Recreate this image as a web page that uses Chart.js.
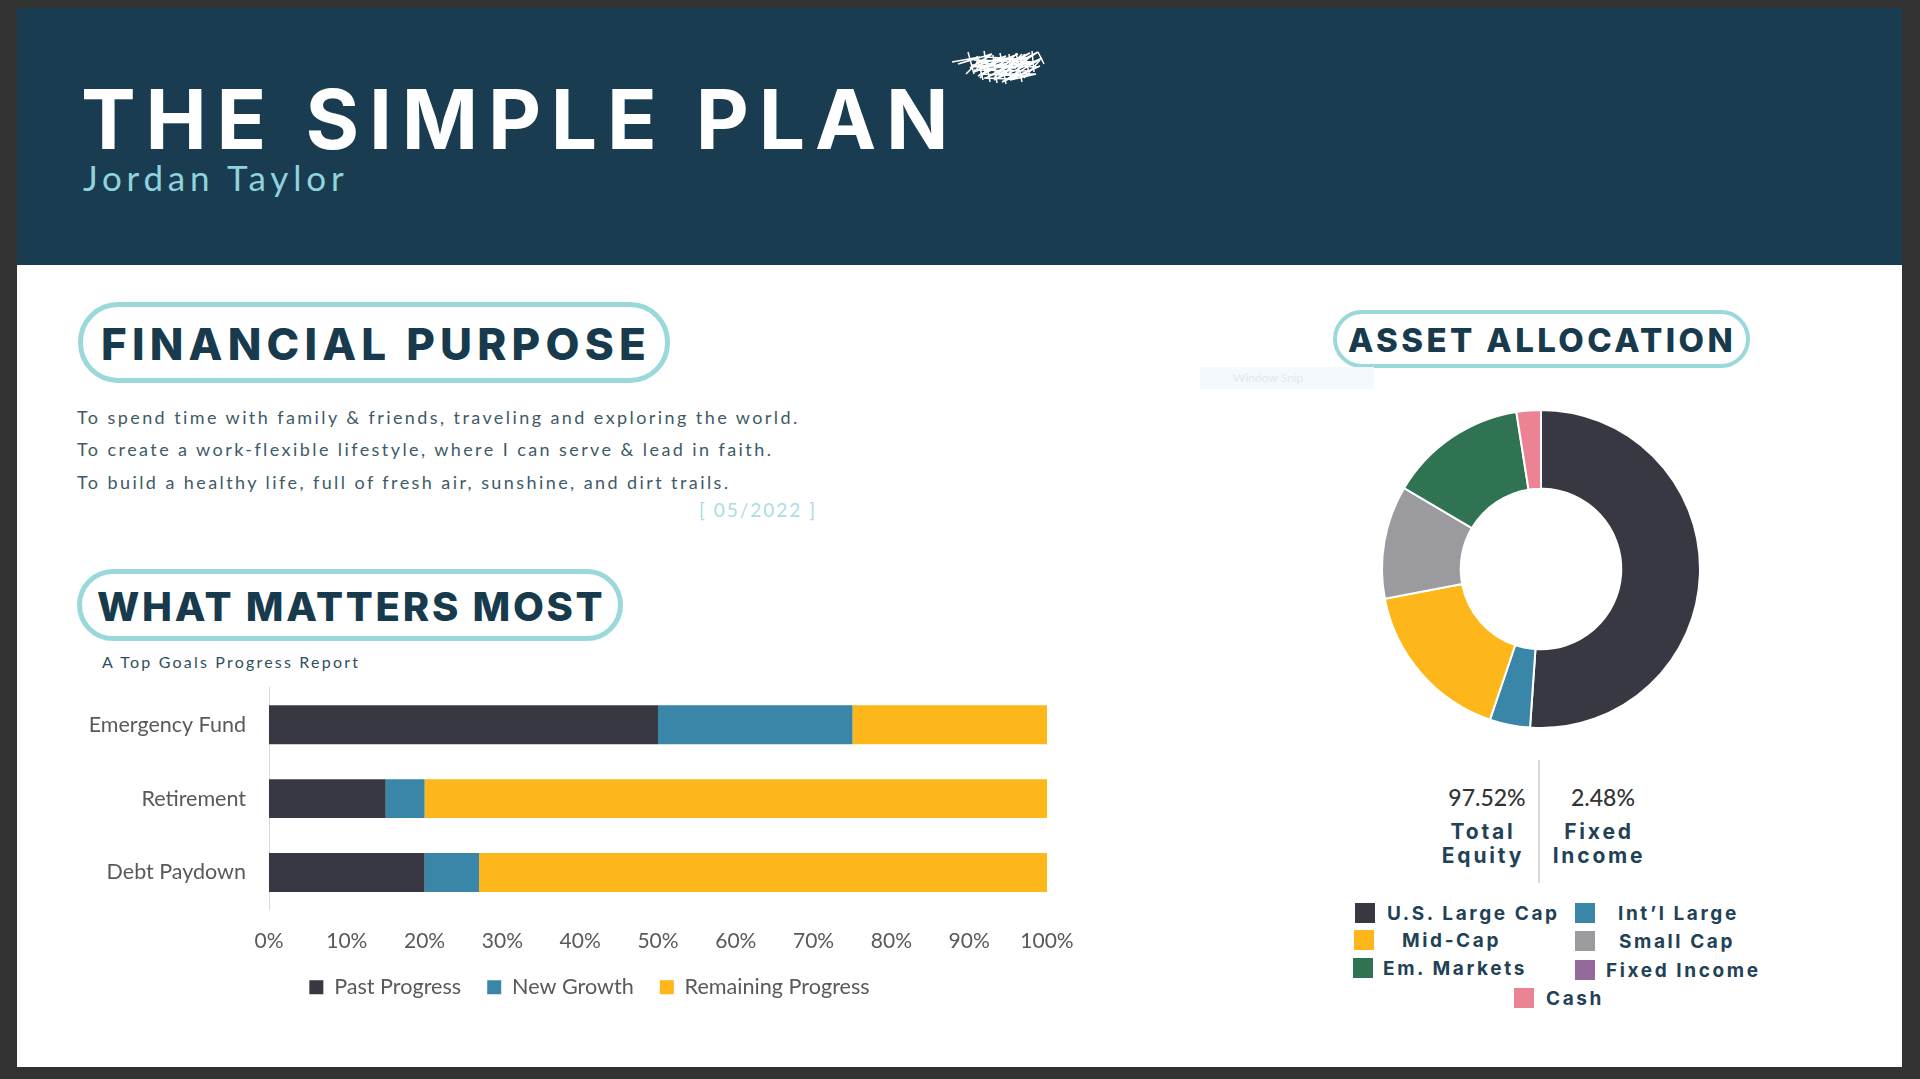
<!DOCTYPE html>
<html>
<head>
<meta charset="utf-8">
<script src="https://cdn.jsdelivr.net/npm/chart.js@4"></script>
<style>
  html, body { margin: 0; padding: 0; background: #323232; }
  body { width: 1920px; height: 1079px; position: relative; overflow: hidden; font-family: Lato, sans-serif; color: #173a4d; }
  .abs { position: absolute; white-space: nowrap; }
  #slide { position: absolute; left: 17px; top: 8px; width: 1885px; height: 1059px; background: #fff; }
  #header { position: absolute; left: 17px; top: 8px; width: 1885px; height: 257px; background: #193c50; }
  #title { left: 81px; top: 70px; font-family: Inter; font-size: 82px; line-height: 100px; font-weight: 700; letter-spacing: 9.8px; color: #fff; }
  #subtitle { left: 83px; top: 155px; font-size: 35px; line-height: 44px; letter-spacing: 4.8px; color: #8fd3dc; }
  .pill { position: absolute; border: 5px solid #9bd8dc; border-radius: 40px; box-sizing: border-box; background: #fff; }
  .head { font-family: Inter; font-weight: 800; color: #173a4d; }
  .body-line { left: 77px; font-size: 18px; line-height: 24px; letter-spacing: 2.42px; color: #3e5a68; }
  .stat { font-size: 23px; line-height: 30px; font-weight: 500; color: #333; text-align: center; width: 100px; }
  .stat-label { font-family: Inter; font-size: 21px; line-height: 24px; font-weight: 700; letter-spacing: 2.8px; text-align: center; width: 120px; color: #1f4257; }
  .key { font-family: Inter; font-size: 19px; line-height: 24px; font-weight: 700; letter-spacing: 2.6px; color: #1f4257; }
  .swatch { position: absolute; width: 20px; height: 20px; }
  canvas { position: absolute; }
</style>
</head>
<body>
<div id="slide"></div>
<div id="header"></div>
<div id="title" class="abs">THE SIMPLE PLAN</div>
<div id="subtitle" class="abs">Jordan Taylor</div>
<svg class="abs" style="left:950px;top:48px" width="100" height="38" viewBox="0 0 100 38" fill="none" stroke="#fff" stroke-width="1.5">
  <path d="M2 14 L30 9 L8 16 L42 6 L20 20 L56 8 L24 24 L68 6 L28 28 L80 5 L36 30 L88 4 L44 32 L92 10 L52 34 L90 18 L60 32 L86 26 L48 26 L80 14 L34 22 L74 10 L26 14 L66 20 L22 18 L72 28"/>
  <path d="M18 4 L24 26 M27 8 L33 32 M34 3 L40 34 M43 7 L47 35 M50 5 L56 36 M59 6 L61 32 M66 5 L72 34 M74 6 L80 28 M82 3 L84 24 M88 4 L94 16 M30 12 L16 26 M64 8 L44 30 M80 8 L60 32 M46 10 L30 30 M90 12 L74 30 M40 6 L26 22 M72 6 L52 28"/>
  <path d="M24 12 L84 14 M22 17 L88 19 M24 22 L80 23 M30 26 L76 28 M36 9 L70 11 M34 30 L60 31"/>
</svg>

<div class="pill" style="left:78px;top:302px;width:592px;height:81px"></div>
<div class="abs head" style="left:101px;top:317px;font-size:44px;line-height:54px;letter-spacing:5.2px">FINANCIAL PURPOSE</div>
<div class="abs body-line" style="top:405px">To spend time with family &amp; friends, traveling and exploring the world.</div>
<div class="abs body-line" style="top:437px">To create a work-flexible lifestyle, where I can serve &amp; lead in faith.</div>
<div class="abs body-line" style="top:470px">To build a healthy life, full of fresh air, sunshine, and dirt trails.</div>
<div class="abs" style="left:699px;top:498px;font-size:19px;line-height:24px;letter-spacing:2px;color:#a8dde2">[ 05/2022 ]</div>

<div class="pill" style="left:77px;top:569px;width:546px;height:72px"></div>
<div class="abs head" style="left:97px;top:582px;font-size:40px;line-height:50px;letter-spacing:2.7px">WHAT MATTERS MOST</div>
<div class="abs" style="left:102px;top:651px;font-size:16px;line-height:22px;letter-spacing:2.2px;color:#2f4f60">A Top Goals Progress Report</div>

<div class="pill" style="left:1333px;top:310px;width:417px;height:58px;border-width:4px"></div>
<div class="abs head" style="left:1348px;top:319px;font-size:33px;line-height:42px;letter-spacing:3.4px">ASSET ALLOCATION</div>
<div class="abs" style="left:1200px;top:367px;width:174px;height:22px;background:#f4f9fd"></div>
<div class="abs" style="left:1233px;top:370px;font-size:12px;line-height:16px;color:#e2e8ee">Window Snip</div>

<canvas id="goalsChart" width="1058" height="356" style="left:60px;top:652px"></canvas>
<canvas id="allocChart" width="340" height="340" style="left:1371px;top:399px"></canvas>

<div class="abs stat" style="left:1437px;top:782px">97.52%</div>
<div class="abs stat" style="left:1553px;top:782px">2.48%</div>
<div class="abs" style="left:1538px;top:760px;width:2px;height:123px;background:#d8d8d8"></div>
<div class="abs stat-label" style="left:1423px;top:820px">Total</div>
<div class="abs stat-label" style="left:1423px;top:844px">Equity</div>
<div class="abs stat-label" style="left:1539px;top:820px">Fixed</div>
<div class="abs stat-label" style="left:1539px;top:844px">Income</div>

<div id="allocKey"></div>

<script>
// Bar chart data
const goalNames = ['Emergency Fund', 'Retirement', 'Debt Paydown'];
const pastProgress = [50, 15, 20];
const newGrowth = [25, 5, 7];
const remainingProgress = [25, 80, 73];

// Donut data
const assetNames = ['U.S. Large Cap', 'Int\u2019l Large', 'Mid-Cap', 'Small Cap', 'Em. Markets', 'Fixed Income', 'Cash'];
const assetShares = [51.1, 4.1, 16.8, 11.5, 14.02, 0, 2.48];

const DARK = '#373842';
const BLUE = '#3a86a8';
const YELLOW = '#fdb71a';
const assetColors = [DARK, BLUE, YELLOW, '#9a9a9f', '#307352', '#946a9a', '#ec8394'];

// Where each donut legend entry sits: swatch x, swatch y, text x
const keySpots = [
  [1355, 903, 1387], [1575, 903, 1618],
  [1354, 930, 1402], [1575, 931, 1619],
  [1353, 958, 1383], [1575, 960, 1606],
  [1514, 988, 1546],
];

const key = document.getElementById('allocKey');
assetNames.forEach((name, i) => {
  const [sx, sy, tx] = keySpots[i];
  const sw = document.createElement('div');
  sw.className = 'swatch';
  sw.style.cssText = `left:${sx}px;top:${sy}px;background:${assetColors[i]}`;
  key.appendChild(sw);
  const label = document.createElement('div');
  label.className = 'abs key';
  label.style.cssText = `left:${tx}px;top:${sy - 1}px`;
  label.textContent = name;
  key.appendChild(label);
});

Chart.defaults.animation = false;
Chart.defaults.font.family = 'Lato';

// The legend in the picture is not centred on the canvas, nudge it over
const legendShift = {
  id: 'legendShift',
  afterLayout(chart) {
    chart.legend.left += 36;
    chart.legend.right += 36;
  }
};

// Stacked progress bars
new Chart(document.getElementById('goalsChart'), {
  type: 'bar',
  data: {
    labels: goalNames,
    datasets: [
      { label: 'Past Progress', data: pastProgress, backgroundColor: DARK },
      { label: 'New Growth', data: newGrowth, backgroundColor: BLUE },
      { label: 'Remaining Progress', data: remainingProgress, backgroundColor: YELLOW },
    ]
  },
  plugins: [legendShift],
  options: {
    indexAxis: 'y',
    responsive: false,
    layout: { padding: { right: 71 } },
    barPercentage: 1,
    categoryPercentage: 0.527,
    plugins: {
      tooltip: { enabled: false },
      legend: {
        position: 'bottom',
        labels: { color: '#595959', font: { size: 21.6 }, boxWidth: 14, boxHeight: 14, padding: 26 },
      },
    },
    scales: {
      x: {
        stacked: true,
        min: 0,
        max: 100,
        grid: { display: false, drawTicks: false },
        border: { display: false },
        ticks: { stepSize: 10, color: '#595959', font: { size: 21 }, padding: 19, maxRotation: 0, callback: v => v + '%' },
        afterFit: scale => { scale.height = 41; },
      },
      y: {
        stacked: true,
        grid: { display: false, drawTicks: false },
        border: { display: true, color: '#d9d9d9' },
        ticks: { color: '#595959', font: { size: 21.5 }, padding: 23 },
        afterFit: scale => { scale.width = 209; },
      },
    },
  }
});

// Allocation donut
new Chart(document.getElementById('allocChart'), {
  type: 'doughnut',
  data: {
    labels: assetNames,
    datasets: [{ data: assetShares, backgroundColor: assetColors, borderColor: '#fff', borderWidth: 2 }]
  },
  options: {
    responsive: false,
    cutout: '50.5%',
    layout: { padding: 10 },
    plugins: { legend: { display: false }, tooltip: { enabled: false } },
  }
});
</script>
</body>
</html>
